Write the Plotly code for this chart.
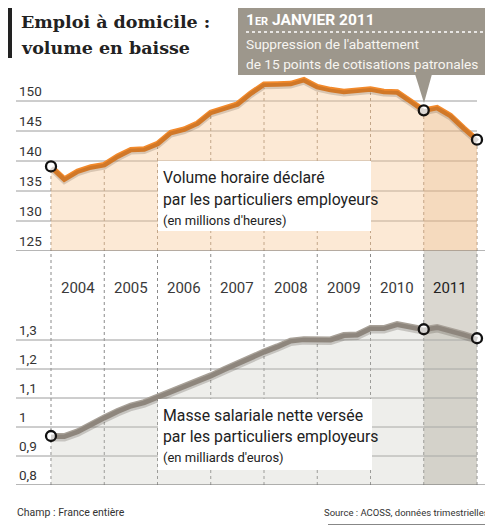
import plotly.graph_objects as go

# trimestres, de debut 2004 a debut 2012
trimestres = [2004 + i / 4 for i in range(33)]
annees = [2004, 2005, 2006, 2007, 2008, 2009, 2010, 2011]

# volume horaire declare (millions d'heures)
volume = [139.1, 137.0, 138.3, 139.0, 139.4, 140.8, 141.9, 142.0, 142.9, 144.75,
          145.3, 146.3, 148.1, 148.8, 149.5, 151.3, 152.8, 152.85, 152.9, 153.55,
          152.4, 151.9, 151.6, 151.8, 152.0, 151.6, 151.5, 150.0, 148.45, 148.9,
          147.6, 145.5, 143.55]

# masse salariale nette (milliards d'euros)
masse = [0.969, 0.969, 0.985, 1.011, 1.033, 1.055, 1.074, 1.086, 1.104, 1.122,
         1.139, 1.156, 1.178, 1.199, 1.221, 1.242, 1.260, 1.278, 1.298, 1.303,
         1.305, 1.302, 1.317, 1.319, 1.341, 1.341, 1.355, 1.347, 1.337, 1.345,
         1.335, 1.320, 1.306]

ticks_haut = [125, 130, 135, 140, 145, 150]
ticks_bas = [0.8, 0.9, 1.0, 1.1, 1.2, 1.3]
labels_bas = ["0,8", "0,9", "1", "1,1", "1,2", "1,3"]

marques = [0, 28, 32]  # points entoures

W, H = 493, 525
PX_AN = 53.25
X0 = 2004 - 43 / PX_AN
X1 = 2012 + 24 / PX_AN
XG = X0 + 8 / PX_AN  # debut des lignes de grille

FONT = "Roboto, sans-serif"
ORANGE = "#F28A2C"
GRIS = "#A8A198"


def fx(px):
    return px / W


def fy(py):
    return 1 - py / H


fig = go.Figure()

# --- graphique du haut
fig.add_trace(go.Scatter(x=trimestres, y=volume, mode="none", fill="tozeroy",
                         fillcolor="rgba(248,200,150,0.4)", yaxis="y", hoverinfo="skip"))
fig.add_trace(go.Scatter(x=trimestres[28:], y=volume[28:], mode="none", fill="tozeroy",
                         fillcolor="rgba(225,165,110,0.22)", yaxis="y", hoverinfo="skip"))
fig.add_trace(go.Scatter(x=trimestres, y=volume, mode="lines", yaxis="y3",
                         line=dict(color="rgba(60,40,20,0.18)", width=6), hoverinfo="skip"))
fig.add_trace(go.Scatter(x=trimestres, y=volume, mode="lines", yaxis="y",
                         line=dict(color=ORANGE, width=5.5)))
fig.add_trace(go.Scatter(x=[trimestres[i] for i in marques], y=[volume[i] for i in marques],
                         mode="markers", yaxis="y",
                         marker=dict(size=10, color="white", line=dict(color="#111", width=2.3))))

# --- graphique du bas
fig.add_trace(go.Scatter(x=trimestres, y=masse, mode="none", fill="tozeroy",
                         fillcolor="rgba(200,200,190,0.3)", yaxis="y2", xaxis="x", hoverinfo="skip"))
fig.add_trace(go.Scatter(x=trimestres, y=masse, mode="lines", yaxis="y4",
                         line=dict(color="rgba(40,30,20,0.2)", width=7), hoverinfo="skip"))
fig.add_trace(go.Scatter(x=trimestres, y=masse, mode="lines", yaxis="y2",
                         line=dict(color=GRIS, width=6)))
fig.add_trace(go.Scatter(x=[trimestres[i] for i in marques], y=[masse[i] for i in marques],
                         mode="markers", yaxis="y2",
                         marker=dict(size=10, color="white", line=dict(color="#111", width=2.3))))

shapes = []
# colonne 2011 grisee (bande des annees + graphique du bas)
shapes.append(dict(type="rect", xref="x", yref="paper", x0=2011, x1=2012,
                   y0=fy(477), y1=fy(243), fillcolor="#DAD7D0", line_width=0, layer="below"))

# grilles
for v in ticks_haut[1:]:
    shapes.append(dict(type="line", xref="x", yref="y", x0=XG, x1=2012, y0=v, y1=v,
                       line=dict(color="#9C9C9C", width=1), layer="below"))
shapes.append(dict(type="line", xref="paper", yref="y", x0=fx(8), x1=1, y0=125, y1=125,
                   line=dict(color="#6E6E6E", width=1.2), layer="above"))
for v in ticks_bas[1:]:
    shapes.append(dict(type="line", xref="x", yref="y2", x0=XG, x1=2012, y0=v, y1=v,
                       line=dict(color="#9C9C9C", width=1), layer="below"))
shapes.append(dict(type="line", xref="paper", yref="y2", x0=fx(8), x1=1, y0=0.8, y1=0.8,
                   line=dict(color="#6E6E6E", width=1.2), layer="above"))

# pointilles verticaux aux changements d'annee
for k in range(9):
    xb = 2004 + k
    shapes.append(dict(type="line", xref="x", yref="paper", x0=xb, x1=xb,
                       y0=fy(477), y1=fy(243),
                       line=dict(color="#8A8A8A", width=1, dash="dot"), layer="below"))
    shapes.append(dict(type="line", xref="x", yref="y", x0=xb, x1=xb,
                       y0=125, y1=volume[4 * k] - 0.6,
                       line=dict(color="#A09080", width=1, dash="dot"), layer="below"))

# cadres blancs des legendes
shapes.append(dict(type="rect", xref="paper", yref="paper", x0=fx(150), x1=fx(363),
                   y0=fy(223), y1=fy(153), fillcolor="white", line_width=0, layer="above"))
shapes.append(dict(type="rect", xref="paper", yref="paper", x0=fx(150), x1=fx(364),
                   y0=fy(462), y1=fy(391), fillcolor="white", line_width=0, layer="above"))

# encadre gris + fleche
shapes.append(dict(type="rect", xref="paper", yref="paper", x0=fx(230), x1=1,
                   y0=fy(67), y1=1, fillcolor="#9D978C", line_width=0, layer="above"))
shapes.append(dict(type="path", xref="paper", yref="paper",
                   path=f"M {fx(407)},{fy(66)} L {fx(424)},{fy(66)} L {fx(416)},{fy(95)} Z",
                   fillcolor="#9D978C", line_width=0, layer="above"))
shapes.append(dict(type="line", xref="paper", yref="paper", x0=fx(238), x1=fx(488),
                   y0=fy(24), y1=fy(24), line=dict(color="white", width=1.3, dash="dot"),
                   layer="above"))

# barre du titre et filets du bas
shapes.append(dict(type="rect", xref="paper", yref="paper", x0=0, x1=fx(4),
                   y0=fy(50), y1=1, fillcolor="#222", line_width=0))
shapes.append(dict(type="line", xref="paper", yref="paper", x0=0, x1=fx(320),
                   y0=fy(518), y1=fy(518), line=dict(color="#666", width=1)))
shapes.append(dict(type="line", xref="paper", yref="paper", x0=fx(320), x1=1,
                   y0=fy(518), y1=fy(518), line=dict(color="#111", width=3)))

ann = []
# titre
for txt, py in [("Emploi à domicile :", 14), ("volume en baisse", 40)]:
    ann.append(dict(x=fx(11), y=fy(py), xref="paper", yref="paper", xanchor="left", yanchor="middle",
                    text=f"<b>{txt}</b>", showarrow=False,
                    font=dict(family="DejaVu Serif, serif", size=17.5, color="#222")))
# encadre
ann.append(dict(x=fx(236), y=fy(12), xref="paper", yref="paper", xanchor="left", yanchor="middle",
                text="<b>1<span style='font-size:11px'>ER</span> JANVIER 2011</b>", showarrow=False,
                font=dict(family=FONT, size=15.5, color="white")))
for txt, py in [("Suppression de l'abattement", 36), ("de 15 points de cotisations patronales", 56)]:
    ann.append(dict(x=fx(236), y=fy(py), xref="paper", yref="paper", xanchor="left", yanchor="middle",
                    text=txt, showarrow=False, font=dict(family=FONT, size=13.7, color="#F7F5F1")))

# graduations
for v in ticks_haut:
    ann.append(dict(x=fx(9), y=v, xref="paper", yref="y", xanchor="left", yanchor="bottom",
                    text=str(v), showarrow=False, font=dict(family=FONT, size=13.5, color="#333")))
for v, t in zip(ticks_bas, labels_bas):
    ann.append(dict(x=fx(9), y=v, xref="paper", yref="y2", xanchor="left", yanchor="bottom",
                    text=t, showarrow=False, font=dict(family=FONT, size=13.5, color="#333")))

# annees
for a in annees:
    ann.append(dict(x=a + 0.5, y=fy(280), xref="x", yref="paper", xanchor="center", yanchor="middle",
                    text=str(a), showarrow=False,
                    font=dict(family=FONT, size=15, color="#222" if a == 2011 else "#3A3A3A")))

# legendes
for txt, py, sz in [("Volume horaire déclaré", 169, 15.8),
                    ("par les particuliers employeurs", 191, 15.8),
                    ("(en millions d'heures)", 212, 13),
                    ("Masse salariale nette versée", 407, 15.8),
                    ("par les particuliers employeurs", 428, 15.8),
                    ("(en milliards d'euros)", 449, 13)]:
    ann.append(dict(x=fx(153), y=fy(py), xref="paper", yref="paper", xanchor="left", yanchor="middle",
                    text=txt, showarrow=False, font=dict(family=FONT, size=sz, color="#222")))

# pied
ann.append(dict(x=fx(7), y=fy(504), xref="paper", yref="paper", xanchor="left", yanchor="middle",
                text="Champ : France entière", showarrow=False,
                font=dict(family=FONT, size=10.5, color="#333")))
ann.append(dict(x=fx(398), y=fy(504), xref="paper", yref="paper", xanchor="center", yanchor="middle",
                text="Source : ACOSS, données trimestrielles", showarrow=False,
                font=dict(family=FONT, size=9.5, color="#333")))

haut = [fy(243), fy(60)]
bas = [fy(477), fy(310)]
fig.update_layout(
    width=W, height=H,
    margin=dict(l=0, r=0, t=0, b=0),
    paper_bgcolor="white", plot_bgcolor="white",
    showlegend=False,
    xaxis=dict(range=[X0, X1], domain=[0, 1], visible=False, fixedrange=True),
    yaxis=dict(range=[125, 125 + 183 / 6], domain=haut, visible=False, anchor="x"),
    yaxis2=dict(range=[0.8, 0.8 + 167 / 290], domain=bas, visible=False, anchor="x"),
    yaxis3=dict(range=[125 + 2 / 6, 125 + 185 / 6], overlaying="y", visible=False),
    yaxis4=dict(range=[0.8 + 2 / 290, 0.8 + 169 / 290], overlaying="y2", visible=False),
    shapes=shapes,
    annotations=ann,
)

fig.write_html("out.html")
